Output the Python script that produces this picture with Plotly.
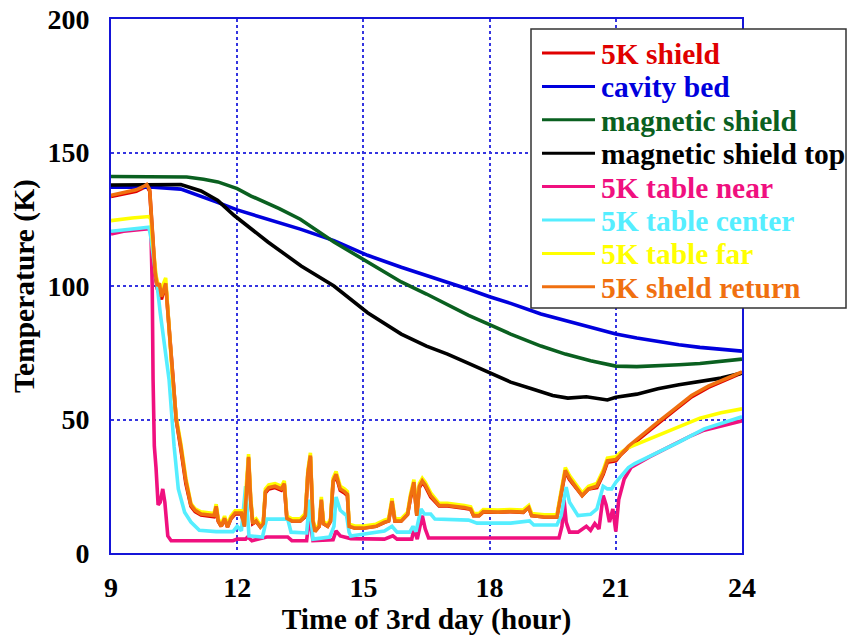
import plotly.graph_objects as go

# ---------------- data ----------------
names = ["5K shield", "cavity bed", "magnetic shield", "magnetic shield top",
         "5K table near", "5K table center", "5K table far", "5K sheld return"]
colors = ["#e00000", "#0000dd", "#0a6020", "#000000",
          "#f0107f", "#55eeff", "#ffff00", "#f07010"]

t_red = [9.0, 9.3, 9.6, 9.8, 9.85, 9.92, 9.97, 10.0, 10.05, 10.1, 10.2, 10.3, 10.4, 10.47, 10.55,
         10.66, 10.78, 10.9, 11.0, 11.14, 11.45, 11.5, 11.55, 11.62, 11.7, 11.77, 11.85, 11.95,
         12.1, 12.17, 12.22, 12.27, 12.32, 12.37, 12.45, 12.55, 12.62, 12.67, 12.75, 12.9, 13.05,
         13.12, 13.18, 13.3, 13.5, 13.62, 13.68, 13.74, 13.8, 13.85, 13.95, 14.0, 14.05, 14.15,
         14.22, 14.28, 14.35, 14.45, 14.55, 14.62, 14.66, 14.8, 15.0, 15.3, 15.5, 15.6, 15.68,
         15.75, 15.9, 16.05, 16.12, 16.2, 16.27, 16.33, 16.4, 16.47, 16.6, 16.72, 16.8, 17.0,
         17.2, 17.4, 17.55, 17.62, 17.75, 17.85, 18.2, 18.5, 18.8, 18.93, 19.0, 19.3, 19.6,
         19.68, 19.8, 19.9, 20.1, 20.2, 20.35, 20.55, 20.7, 20.8, 21.0, 21.1, 21.3, 21.6, 22.0,
         22.4, 22.8, 23.2, 23.6, 24.0]
v_red = [133.5, 134.5, 135.5, 137.0, 137.5, 135.5, 124, 114, 104, 99, 95, 101, 80, 64, 50,
         39, 26, 17.5, 15.5, 14.2, 13.6, 17, 11.8, 10, 12.8, 9.8, 12.8, 14.6,
         14.6, 10, 24.5, 35.5, 19.5, 11, 11.8, 9.8, 10.8, 22.5, 24, 24.5, 23.5,
         25.5, 13, 12, 12, 13.6, 29.5, 36, 12, 8.2, 10, 19.5, 11, 10,
         12, 26.5, 29, 23.5, 22.5, 21.5, 10, 9.4, 9.4, 10, 11.5, 12, 19,
         12, 12, 14.5, 20.5, 26, 14, 24.5, 26.5, 25, 21, 18.8, 17.6, 17.6,
         17.3, 16.8, 16.4, 14, 14, 15.4, 15.3, 15.5, 15.2, 17.2, 14, 13.5, 13.5,
         20.5, 30.5, 27.5, 23.5, 21.5, 24, 24.5, 29.5, 34, 34.5, 36.5, 39.5, 43.5, 48.5,
         53.5, 58.5, 62, 64.8, 67.5]

t_blue = [9.0, 9.5, 10.0, 10.66, 11.0, 11.5, 12.0, 12.73, 13.5, 14.3, 15.1, 15.9, 16.5, 17.0,
          17.5, 18.0, 18.5, 19.22, 19.8, 20.4, 21.0, 21.5, 22.0, 22.5, 23.0, 23.5, 24.0]
v_blue = [137.0, 137.0, 137.0, 136.3, 134.5, 131.5, 128.5, 125.0, 121.3, 117.0, 111.5, 107.0,
          104.0, 101.5, 98.8, 96.0, 93.5, 89.5, 87.0, 84.5, 82.0, 80.5, 79.2, 78.0, 77.0,
          76.2, 75.6]

t_green = [9.0, 10.0, 10.8, 11.2, 11.54, 12.0, 12.33, 13.0, 13.5, 14.3, 15.1, 15.9, 16.5,
           17.0, 17.5, 18.0, 18.5, 19.22, 19.8, 20.4, 21.0, 21.5, 22.0, 22.5, 23.0, 23.5, 24.0]
v_green = [141.0, 141.0, 140.8, 140.0, 139.0, 136.5, 133.7, 129.0, 125.0, 116.5, 109.0, 101.5,
           97.0, 93.0, 89.0, 85.5, 82.0, 77.5, 74.5, 72.0, 70.0, 69.8, 70.0, 70.5, 71.0,
           71.8, 72.6]

t_black = [9.0, 10.0, 10.66, 11.14, 11.54, 11.93, 12.33, 12.73, 13.52, 14.3, 15.1, 15.9, 16.5,
           17.0, 17.5, 18.0, 18.5, 19.0, 19.5, 19.86, 20.3, 20.8, 21.0, 21.5, 22.0, 22.5, 23.0,
           23.5, 24.0]
v_black = [137.8, 138.0, 138.0, 135.6, 132.0, 126.4, 121.3, 116.5, 107.5, 100.0, 90.0, 82.0,
           77.5, 74.5, 71.0, 67.5, 64.0, 61.5, 59.0, 58.0, 58.5, 57.3, 58.3, 59.5, 61.5, 63.0,
           64.4, 65.5, 67.4]

t_pink = [9.0, 9.3, 9.6, 9.9, 9.95, 9.98, 10.0, 10.03, 10.07, 10.12, 10.17, 10.23, 10.28,
          10.35, 10.43, 11.9, 12.0, 12.2, 12.25, 12.35, 12.7, 13.2, 13.3, 13.65, 13.72, 13.8,
          14.28, 14.35, 14.45, 14.7, 15.5, 15.7, 15.8, 16.15, 16.2, 16.28, 16.4, 16.47, 16.55,
          19.65, 19.72, 19.77, 19.82, 19.9, 20.1, 20.2, 20.3, 20.4, 20.5, 20.6, 20.7, 20.77,
          20.85, 20.93, 21.0, 21.07, 21.2, 21.36, 21.8, 22.3, 22.8, 23.1, 23.5, 24.0]
v_pink = [119.5, 120.5, 121.0, 121.5, 120.0, 100.0, 65.0, 40.0, 32.0, 18.0, 19.0, 24.0, 19.0,
          6.4, 4.6, 4.6, 5.2, 5.2, 6.0, 4.6, 6.0, 6.0, 4.6, 4.6, 14.0, 4.6,
          5.0, 8.3, 6.4, 5.4, 5.2, 6.4, 5.2, 5.2, 9.0, 5.2, 14.0, 9.0, 5.6,
          5.6, 10.0, 20.0, 11.6, 7.8, 7.8, 9.0, 10.0, 8.5, 11.0, 9.0, 21.5, 18.0,
          11.6, 16.5, 8.0, 20.0, 27.7, 32.0, 36.0, 40.0, 44.0, 46.0, 47.5, 49.5]

t_cyan = [9.0, 9.3, 9.6, 9.9, 9.95, 10.02, 10.1, 10.17, 10.25, 10.38, 10.5, 10.6, 10.75, 10.9,
          11.1, 11.5, 11.9, 12.0, 12.1, 12.2, 12.28, 12.6, 12.7, 13.2, 13.28, 13.65, 13.72, 13.8,
          14.2, 14.3, 14.35, 14.45, 14.6, 14.66, 14.7, 15.5, 15.68, 15.8, 16.1, 16.18, 16.25,
          16.37, 16.45, 16.6, 16.7, 17.5, 17.7, 18.5, 18.95, 19.05, 19.6, 19.7, 19.82, 19.9,
          20.1, 20.4, 20.55, 20.7, 20.8, 20.9, 21.0, 21.3, 21.45, 22.0, 22.5, 23.1, 23.5, 24.0]
v_cyan = [120.5, 121.0, 121.5, 122.0, 118.0, 110.0, 100.0, 90.0, 80.0, 65.0, 40.0, 24.0, 15.3, 11.6,
          8.5, 8.0, 8.0, 10.0, 8.3, 25.0, 6.4, 6.0, 12.7, 12.7, 7.8, 7.5, 20.0, 5.2,
          6.0, 10.0, 21.0, 16.0, 14.0, 7.8, 6.4, 8.2, 10.0, 7.8, 7.8, 10.0, 8.0,
          16.5, 14.6, 14.6, 12.7, 12.3, 11.2, 11.2, 12.0, 10.5, 10.5, 14.0, 24.7, 19.0,
          14.0, 14.5, 16.5, 25.0, 24.0, 24.0, 26.5, 32.0, 33.5, 37.5, 41.5, 46.5, 48.5, 51.0]

t_yellow = [9.0, 9.2, 9.5, 9.9, 9.95, 9.98, 10.02, 10.07, 10.12, 10.2, 10.3, 10.38, 10.46, 10.55,
            10.66, 10.78, 10.9, 11.0, 11.14, 11.45, 11.5, 11.55, 11.62, 11.7, 11.77, 11.85, 11.95,
            12.1, 12.17, 12.22, 12.27, 12.32, 12.37, 12.45, 12.55, 12.62, 12.67, 12.75, 12.9, 13.05,
            13.12, 13.18, 13.3, 13.5, 13.62, 13.68, 13.74, 13.8, 13.85, 13.95, 14.0, 14.05, 14.15,
            14.22, 14.28, 14.35, 14.45, 14.55, 14.62, 14.66, 14.8, 15.0, 15.3, 15.5, 15.6, 15.68,
            15.75, 15.9, 16.05, 16.12, 16.2, 16.27, 16.33, 16.4, 16.47, 16.6, 16.72, 16.8, 17.0,
            17.2, 17.4, 17.55, 17.62, 17.75, 17.85, 18.2, 18.5, 18.8, 18.93, 19.0, 19.3, 19.6,
            19.68, 19.8, 19.9, 20.1, 20.2, 20.35, 20.55, 20.7, 20.8, 21.0, 21.1, 21.3, 21.6, 22.0,
            22.5, 23.0, 23.5, 24.0]
v_yellow = [124.5, 125.0, 125.5, 126.0, 125.0, 118.0, 110.0, 104.0, 100.5, 99.0, 103.0, 82.0, 66.0, 51.0,
            41.0, 28.0, 18.5, 16.5, 15.4, 14.8, 18.3, 12.8, 10.8, 13.8, 10.5, 13.8, 15.8,
            15.8, 10.8, 26.0, 37.0, 21.0, 12.0, 12.8, 10.5, 11.8, 24.0, 25.5, 26.0, 25.0,
            27.0, 13.8, 12.8, 12.8, 14.8, 31.0, 37.5, 12.8, 8.8, 10.8, 21.0, 11.8, 10.8,
            12.8, 28.0, 30.5, 25.0, 24.0, 23.0, 10.8, 10.1, 10.1, 10.8, 12.3, 12.8, 20.5,
            12.8, 12.8, 15.3, 22.0, 27.5, 14.8, 26.0, 28.0, 26.5, 22.5, 20.0, 18.6, 18.6,
            18.3, 17.8, 17.3, 14.8, 14.8, 16.3, 16.1, 16.3, 16.1, 17.8, 14.8, 14.3, 14.3,
            22.0, 32.0, 29.0, 25.0, 22.5, 25.0, 26.0, 31.0, 35.5, 36.0, 37.5, 39.5, 41.5, 44.0,
            47.5, 50.5, 52.5, 54.0]

t_orange = [9.0, 9.3, 9.6, 9.8, 9.85, 9.92, 9.97, 10.0, 10.05, 10.1, 10.15, 10.2, 10.3, 10.4,
            10.47, 10.55, 10.66, 10.78, 10.9, 11.0, 11.14, 11.45, 11.5, 11.55, 11.62, 11.7, 11.77,
            11.85, 11.95, 12.1, 12.17, 12.22, 12.27, 12.32, 12.37, 12.45, 12.55, 12.62, 12.67,
            12.75, 12.9, 13.05, 13.12, 13.18, 13.3, 13.5, 13.62, 13.68, 13.74, 13.8, 13.85, 13.95,
            14.0, 14.05, 14.15, 14.22, 14.28, 14.35, 14.45, 14.55, 14.62, 14.66, 14.8, 15.0, 15.3,
            15.5, 15.6, 15.68, 15.75, 15.9, 16.05, 16.12, 16.2, 16.27, 16.33, 16.4, 16.47, 16.6,
            16.72, 16.8, 17.0, 17.2, 17.4, 17.55, 17.62, 17.75, 17.85, 18.2, 18.5, 18.8, 18.93,
            19.0, 19.3, 19.6, 19.68, 19.8, 19.9, 20.1, 20.2, 20.35, 20.55, 20.7, 20.8, 21.0, 21.1,
            21.3, 21.6, 22.0, 22.4, 22.8, 23.2, 23.6, 24.0]
v_orange = [134.0, 135.0, 136.0, 137.5, 138.0, 136.0, 125.0, 115.0, 105.0, 100.0, 101.0, 96.0, 101.0, 80.0,
            65.0, 50.0, 40.0, 27.0, 18.0, 16.0, 14.6, 14.0, 17.5, 12.0, 10.0, 13.0, 9.7,
            13.0, 15.0, 15.0, 10.0, 25.0, 36.0, 20.0, 11.0, 12.0, 9.7, 11.0, 23.0,
            24.5, 25.0, 24.0, 26.0, 13.0, 12.0, 12.0, 14.0, 30.0, 36.5, 12.0, 8.0, 10.0,
            20.0, 11.0, 10.0, 12.0, 27.0, 29.5, 24.0, 23.0, 22.0, 10.0, 9.3, 9.3, 10.0,
            11.5, 12.0, 19.5, 12.0, 12.0, 14.5, 21.0, 26.5, 14.0, 25.0, 27.0, 25.5, 21.5,
            19.0, 17.8, 17.8, 17.5, 17.0, 16.5, 14.0, 14.0, 15.5, 15.3, 15.5, 15.3, 17.0,
            14.0, 13.5, 13.5, 21.0, 31.0, 28.0, 24.0, 21.5, 24.0, 25.0, 30.0, 34.5, 35.0, 36.5,
            40.0, 44.0, 49.0, 54.0, 59.0, 62.5, 65.0, 67.8]

series_t = [t_red, t_blue, t_green, t_black, t_pink, t_cyan, t_yellow, t_orange]
series_v = [v_red, v_blue, v_green, v_black, v_pink, v_cyan, v_yellow, v_orange]

x_ticks = [9, 12, 15, 18, 21, 24]
y_ticks = [0, 50, 100, 150, 200]

FONT = "Liberation Serif"
GRID = "#3535e0"
FRAME = "#1515d8"

fig = go.Figure()
for n, c, t, v in zip(names, colors, series_t, series_v):
    fig.add_trace(go.Scatter(x=t, y=v, mode="lines", name=n,
                             line=dict(color=c, width=3.6), showlegend=False))

# ------------- hand-built legend (paper coordinates) -------------
L, R, T, B = 111, 742, 19, 553
def px(xp):
    return (xp - L) / (R - L)
def py(yp):
    return (B - yp) / (B - T)

fig.add_shape(type="rect", xref="paper", yref="paper",
              x0=px(531), x1=px(846), y0=py(308), y1=py(29),
              line=dict(color="#333333", width=1.5), fillcolor="white", layer="above")
for i, (n, c) in enumerate(zip(names, colors)):
    yy = 53 + 33.4 * i
    fig.add_shape(type="line", xref="paper", yref="paper",
                  x0=px(542), x1=px(595), y0=py(yy), y1=py(yy),
                  line=dict(color=c, width=3), layer="above")
    fig.add_annotation(xref="paper", yref="paper", x=px(599), y=py(yy + 1),
                       text=n, showarrow=False, xanchor="left", yanchor="middle",
                       font=dict(family=FONT, size=29.5, color=c, weight="bold"))

fig.update_xaxes(range=[9, 24], tickvals=x_ticks, ticktext=[str(v) for v in x_ticks],
                 showgrid=True, gridcolor=GRID, griddash="dot", gridwidth=1.5,
                 showline=True, mirror=True, linecolor=FRAME, linewidth=2,
                 ticks="outside", ticklen=8, tickcolor="rgba(0,0,0,0)",
                 zeroline=False,
                 tickfont=dict(family=FONT, size=28, color="black", weight="bold"),
                 title=dict(text="Time of 3rd day (hour)", standoff=6,
                            font=dict(family=FONT, size=29.5, color="black", weight="bold")))
fig.update_yaxes(range=[0, 200], tickvals=y_ticks, ticktext=[str(v) for v in y_ticks],
                 showgrid=True, gridcolor=GRID, griddash="dot", gridwidth=1.5,
                 showline=True, mirror=True, linecolor=FRAME, linewidth=2,
                 ticks="outside", ticklen=14, tickcolor="rgba(0,0,0,0)",
                 zeroline=False,
                 tickfont=dict(family=FONT, size=28, color="black", weight="bold"),
                 title=dict(text="Temperature (K)", standoff=4,
                            font=dict(family=FONT, size=29.5, color="black", weight="bold")))

fig.update_layout(width=847, height=642, autosize=False,
                  margin=dict(l=L, r=847 - R, t=T, b=642 - B, autoexpand=False),
                  paper_bgcolor="white", plot_bgcolor="white")

fig.write_html("out.html")
